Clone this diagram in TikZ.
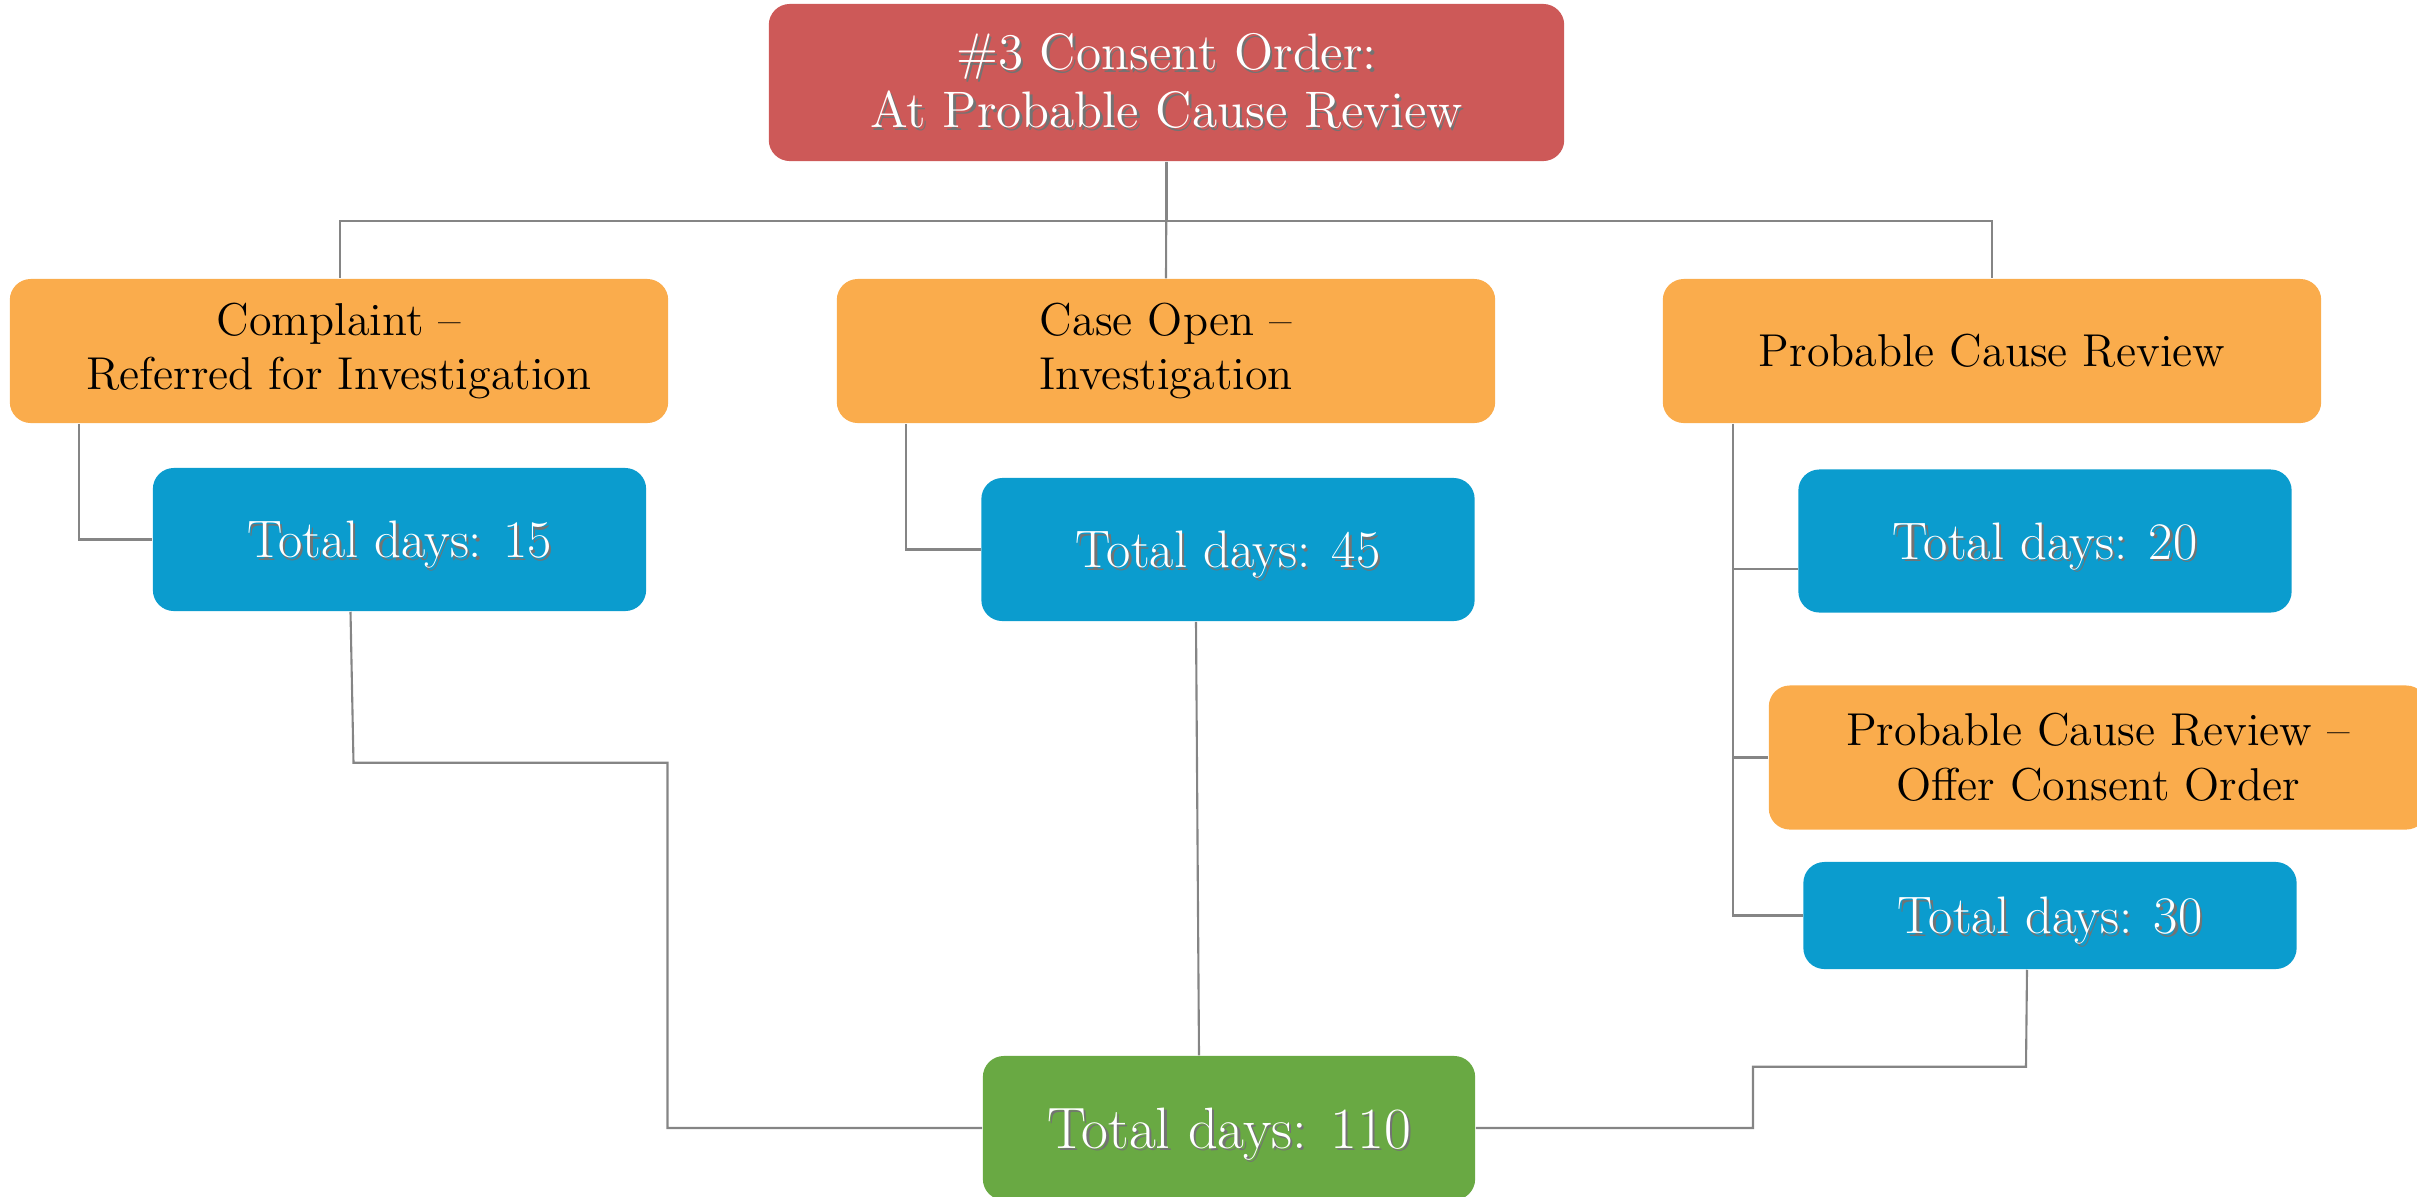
\documentclass[tikz,border=0pt]{standalone}
\usepackage{tikz}
\usetikzlibrary{positioning,shapes,calc}
\definecolor{brick}{HTML}{CD5958}
\definecolor{amber}{HTML}{FAAC4C}
\definecolor{ocean}{HTML}{0B9CCE}
\definecolor{leaf}{HTML}{69A943}
\definecolor{wire}{HTML}{858585}
\newcommand{\shadowed}[1]{\makebox[0pt][l]{\hspace{0.7pt}\raisebox{-0.7pt}{\color{black!55}#1}}#1}

\begin{document}
\begin{tikzpicture}[x=0.01cm, y=-0.01cm,
      box/.style={rectangle, rounded corners=0.21cm, align=center, inner sep=0pt},
      head/.style={box, fill=brick, text=white, minimum width=7.95cm, minimum height=1.57cm, font=\fontsize{14.6}{16.4}\selectfont},
      stage/.style={box, fill=amber, text=black, minimum width=6.58cm, minimum height=1.44cm, font=\fontsize{13.1}{15.6}\selectfont},
      days/.style={box, fill=ocean, text=white, text depth=0pt, minimum width=4.93cm, minimum height=1.43cm, font=\fontsize{15}{17}\selectfont},
      total/.style={box, fill=leaf, text=white, text depth=0pt, minimum width=4.92cm, minimum height=1.44cm, font=\fontsize{16.6}{18}\selectfont},
      link/.style={draw=wire, line width=0.6pt}
      ]
      \useasboundingbox (0,0) rectangle (2417,1196);
      \clip (0,0) rectangle (2417,1196);
      \node[head] (TITLE) at (1166.5,82.5) {\shadowed{\#3 Consent Order:}\\ \shadowed{At Probable Cause Review}};
      \node[stage] (COMP) at (339,351) {Complaint --\\ Referred for Investigation};
      \node[stage] (OPEN) at (1166,351) {Case Open --\\ Investigation};
      \node[stage] (PCR) at (1992,351) {Probable Cause Review};
      \node[days] (D15) at (399.5,539.5) {\shadowed{Total days: 15}};
      \node[days] (D45) at (1228,549.5) {\shadowed{Total days: 45}};
      \node[days] (D20) at (2045,541) {\shadowed{Total days: 20}};
      \node[stage] (OFFER) at (2098,757.5) {Probable Cause Review --\\ Offer Consent Order};
      \node[days, minimum height=1.07cm] (D30) at (2050,915.5) {\shadowed{Total days: 30}};
      \node[total] (TOT) at (1229,1128) {\shadowed{Total days: 110}};
      \draw[link] (TITLE.south) -- ++(0,59) -| ($(COMP.north)+(1,0)$);
      \draw[link] (TITLE.south) -- (OPEN.north);
      \draw[link] (TITLE.south) -- ++(0,59) -| (PCR.north);
      \draw[link] ($(COMP.south west)+(70,0)$) |- (D15.west);
      \draw[link] ($(OPEN.south west)+(70,0)$) |- (D45.west);
      \draw[link] ($(PCR.south west)+(71,0)$) |- ($(D20.west)+(0,28)$);
      \draw[link] ($(PCR.south west)+(71,0)$) |- (OFFER.west);
      \draw[link] ($(PCR.south west)+(71,0)$) |- (D30.west);
      \draw[link] ($(D15.south)+(-49,0)$) -- ++(3,151) -- ++(314,0) |- (TOT.west);
      \draw[link] ($(D45.south)+(-32,0)$) -- ($(TOT.north)+(-30,0)$);
      \draw[link] ($(D30.south)+(-23,0)$) -- ++(-1,97) -- ++(-273,0) |- (TOT.east);
    \end{tikzpicture}
\end{document}
